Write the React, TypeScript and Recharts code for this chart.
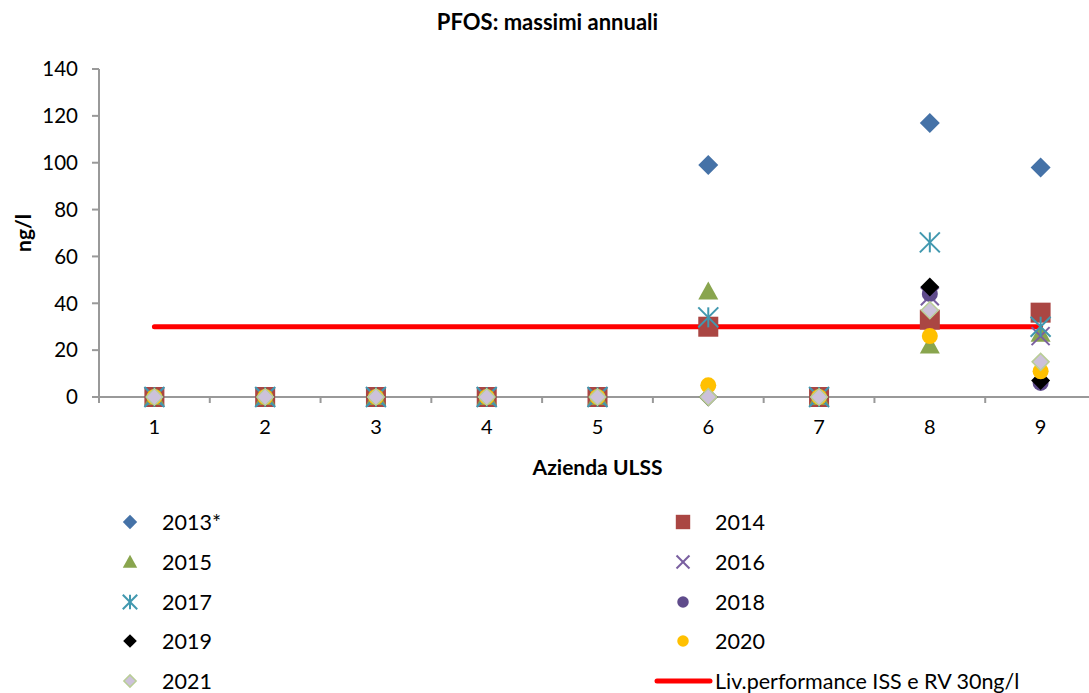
import React from 'react';
import { ComposedChart, Scatter, Line, XAxis, YAxis, Legend, Label } from 'recharts';

const categories = [1, 2, 3, 4, 5, 6, 7, 8, 9];
const v2013 = [0, 0, 0, 0, 0, 99, 0, 117, 98];
const v2014 = [0, 0, 0, 0, 0, 30, 0, 33, 36];
const v2015 = [0, 0, 0, 0, 0, 45, 0, 22, 27];
const v2016 = [0, 0, 0, 0, 0, null, 0, 43, 26];
const v2017 = [0, 0, 0, 0, 0, 34, 0, 66, 30];
const v2018 = [0, 0, 0, 0, 0, null, 0, 44, 6];
const v2019 = [0, 0, 0, 0, 0, 0, 0, 47, 7];
const v2020 = [0, 0, 0, 0, 0, 5, 0, 26, 11];
const v2021 = [0, 0, 0, 0, 0, 0, 0, 37, 15];
const limitValues = [30, 30, 30, 30, 30, 30, 30, 30, 30];
const yTicks = [0, 20, 40, 60, 80, 100, 120, 140];
const xTicks = [0.5, 1, 1.5, 2, 2.5, 3, 3.5, 4, 4.5, 5, 5.5, 6, 6.5, 7, 7.5, 8, 8.5, 9, 9.5];

const TITLE = 'PFOS: massimi annuali';
const X_TITLE = 'Azienda ULSS';
const Y_TITLE = 'ng/l';
const LIMIT_NAME = 'Liv.performance ISS e RV 30ng/l';

type Kind = 'diamond' | 'square' | 'triangle' | 'x' | 'asterisk' | 'circle';
type SeriesDef = {
  name: string;
  values: (number | null)[];
  kind: Kind;
  color: string;
  size: number;
  stroke?: string;
};

const seriesDefs: SeriesDef[] = [
  { name: '2013*', values: v2013, kind: 'diamond', color: '#4572A7', size: 10 },
  { name: '2014', values: v2014, kind: 'square', color: '#AA4643', size: 10 },
  { name: '2015', values: v2015, kind: 'triangle', color: '#89A54E', size: 10 },
  { name: '2016', values: v2016, kind: 'x', color: '#7A5FA0', size: 9 },
  { name: '2017', values: v2017, kind: 'asterisk', color: '#4198AF', size: 10 },
  { name: '2018', values: v2018, kind: 'circle', color: '#5F4B8B', size: 8 },
  { name: '2019', values: v2019, kind: 'diamond', color: '#000000', size: 9.5 },
  { name: '2020', values: v2020, kind: 'circle', color: '#FFC000', size: 8 },
  { name: '2021', values: v2021, kind: 'diamond', color: '#CCC1DA', size: 8.5, stroke: '#B9CD96' },
];

const FONT = 'Lato, "Liberation Sans", Arial, sans-serif';
const AXIS_COLOR = '#999999';
const X_TICK_SIZE = 6;
const X_TICK_MARGIN = 17;

const lineData = categories.map((c, i) => ({ x: c, limit: limitValues[i] }));

function renderMarker(def: SeriesDef, cx: number, cy: number, scale: number, key?: string) {
  if (cx == null || cy == null || Number.isNaN(cx) || Number.isNaN(cy)) return <g key={key} />;
  const s = def.size * scale;
  switch (def.kind) {
    case 'diamond':
      return (
        <polygon
          key={key}
          points={`${cx},${cy - s} ${cx + s},${cy} ${cx},${cy + s} ${cx - s},${cy}`}
          fill={def.color}
          stroke={def.stroke || 'none'}
          strokeWidth={def.stroke ? 1.5 : 0}
        />
      );
    case 'square':
      return <rect key={key} x={cx - s} y={cy - s} width={2 * s} height={2 * s} fill={def.color} />;
    case 'triangle':
      return (
        <polygon
          key={key}
          points={`${cx},${cy - s} ${cx + s},${cy + s * 0.8} ${cx - s},${cy + s * 0.8}`}
          fill={def.color}
        />
      );
    case 'x':
      return (
        <g key={key} stroke={def.color} strokeWidth={2}>
          <line x1={cx - s} y1={cy - s} x2={cx + s} y2={cy + s} />
          <line x1={cx - s} y1={cy + s} x2={cx + s} y2={cy - s} />
        </g>
      );
    case 'asterisk':
      return (
        <g key={key} stroke={def.color} strokeWidth={2}>
          <line x1={cx - s} y1={cy - s} x2={cx + s} y2={cy + s} />
          <line x1={cx - s} y1={cy + s} x2={cx + s} y2={cy - s} />
          <line x1={cx} y1={cy - s} x2={cx} y2={cy + s} />
        </g>
      );
    case 'circle':
    default:
      return <circle key={key} cx={cx} cy={cy} r={s} fill={def.color} />;
  }
}

const XTick = (props: any) => {
  const { x, y, payload } = props;
  const v = payload.value;
  if (Number.isInteger(v)) {
    return (
      <text x={x} y={y} dy="0.71em" textAnchor="middle" fill="#000" fontSize={20} fontFamily={FONT}>
        {v}
      </text>
    );
  }
  return (
    <line
      x1={x}
      x2={x}
      y1={y - X_TICK_MARGIN - X_TICK_SIZE}
      y2={y - X_TICK_MARGIN}
      stroke={AXIS_COLOR}
      strokeWidth={2}
    />
  );
};

const LegendContent = () => {
  const items: { name: string; def?: SeriesDef }[] = seriesDefs.map((d) => ({ name: d.name, def: d }));
  items.push({ name: LIMIT_NAME });
  const rowY = [45, 85, 125, 164, 204];
  const colMarker = [130, 683];
  const colText = [162, 715];
  return (
    <div style={{ position: 'relative', width: 1089, height: 216, fontFamily: FONT }}>
      <svg width={1089} height={216} style={{ position: 'absolute', left: 0, top: 0 }}>
        {items.map((it, i) => {
          const row = Math.floor(i / 2);
          const col = i % 2;
          const y = rowY[row];
          if (it.def) {
            return renderMarker(it.def, colMarker[col], y, 0.72, `m${i}`);
          }
          return (
            <line
              key={`m${i}`}
              x1={colMarker[col] - 26}
              x2={colText[col] - 5}
              y1={y}
              y2={y}
              stroke="#FF0000"
              strokeWidth={5}
              strokeLinecap="round"
            />
          );
        })}
        {items.map((it, i) => {
          const row = Math.floor(i / 2);
          const col = i % 2;
          return (
            <text
              key={`t${i}`}
              x={colText[col]}
              y={rowY[row]}
              dominantBaseline="central"
              fontSize={21.5}
              fill="#000"
              fontFamily={FONT}
            >
              {it.name}
            </text>
          );
        })}
      </svg>
    </div>
  );
};

export default function App() {
  return (
    <div style={{ position: 'absolute', left: 0, top: 0, width: 1089, height: 693, overflow: 'hidden', background: '#fff' }}>
      <div
        style={{
          position: 'absolute',
          left: 0,
          top: 9,
          width: 1095,
          textAlign: 'center',
          fontFamily: FONT,
          fontWeight: 'bold',
          fontSize: 22,
          lineHeight: '26px',
          color: '#000',
        }}
      >
        {TITLE}
      </div>
      <ComposedChart
        width={1100}
        height={693}
        data={lineData}
        margin={{ top: 69, right: 4, bottom: 0, left: 0 }}
      >
        <XAxis
          dataKey="x"
          type="number"
          domain={[0.5, 9.5]}
          ticks={xTicks}
          interval={0}
          allowDataOverflow
          height={80}
          stroke={AXIS_COLOR}
          strokeWidth={2}
          tickLine={false}
          tickSize={X_TICK_SIZE}
          tickMargin={X_TICK_MARGIN}
          tick={<XTick />}
        >
          <Label
            content={(p: any) => {
              const vb = p.viewBox || { x: 99, y: 397, width: 997, height: 80 };
              return (
                <text
                  x={vb.x + vb.width / 2}
                  y={vb.y + 69}
                  textAnchor="middle"
                  dominantBaseline="central"
                  fontFamily={FONT}
                  fontWeight="bold"
                  fontSize={21}
                  fill="#000"
                >
                  {X_TITLE}
                </text>
              );
            }}
          />
        </XAxis>
        <YAxis
          type="number"
          domain={[0, 140]}
          ticks={yTicks}
          interval={0}
          width={99}
          stroke={AXIS_COLOR}
          strokeWidth={2}
          tickSize={7}
          tickMargin={14}
          tick={{ fill: '#000', fontSize: 20.5, fontFamily: FONT }}
        >
          <Label
            content={(p: any) => {
              const vb = p.viewBox || { x: 0, y: 69, width: 99, height: 328 };
              const cx = vb.x + 22;
              const cy = vb.y + vb.height / 2;
              return (
                <text
                  x={cx}
                  y={cy}
                  transform={`rotate(-90, ${cx}, ${cy})`}
                  textAnchor="middle"
                  dominantBaseline="central"
                  fontFamily={FONT}
                  fontWeight="bold"
                  fontSize={21}
                  fill="#000"
                >
                  {Y_TITLE}
                </text>
              );
            }}
          />
        </YAxis>
        <Legend
          verticalAlign="bottom"
          content={<LegendContent />}
          wrapperStyle={{ left: 0, bottom: 0, width: 1089, height: 216 }}
        />
        <Line
          dataKey="limit"
          name={LIMIT_NAME}
          stroke="#FF0000"
          strokeWidth={5}
          strokeLinecap="round"
          dot={false}
          activeDot={false}
          isAnimationActive={false}
        />
        {seriesDefs.map((def) => (
          <Scatter
            key={def.name}
            name={def.name}
            data={categories
              .map((c, i) => ({ x: c, y: def.values[i] }))
              .filter((d) => d.y !== null)}
            dataKey="y"
            isAnimationActive={false}
            shape={(p: any) => renderMarker(def, p.cx, p.cy, 1)}
          />
        ))}
      </ComposedChart>
    </div>
  );
}
